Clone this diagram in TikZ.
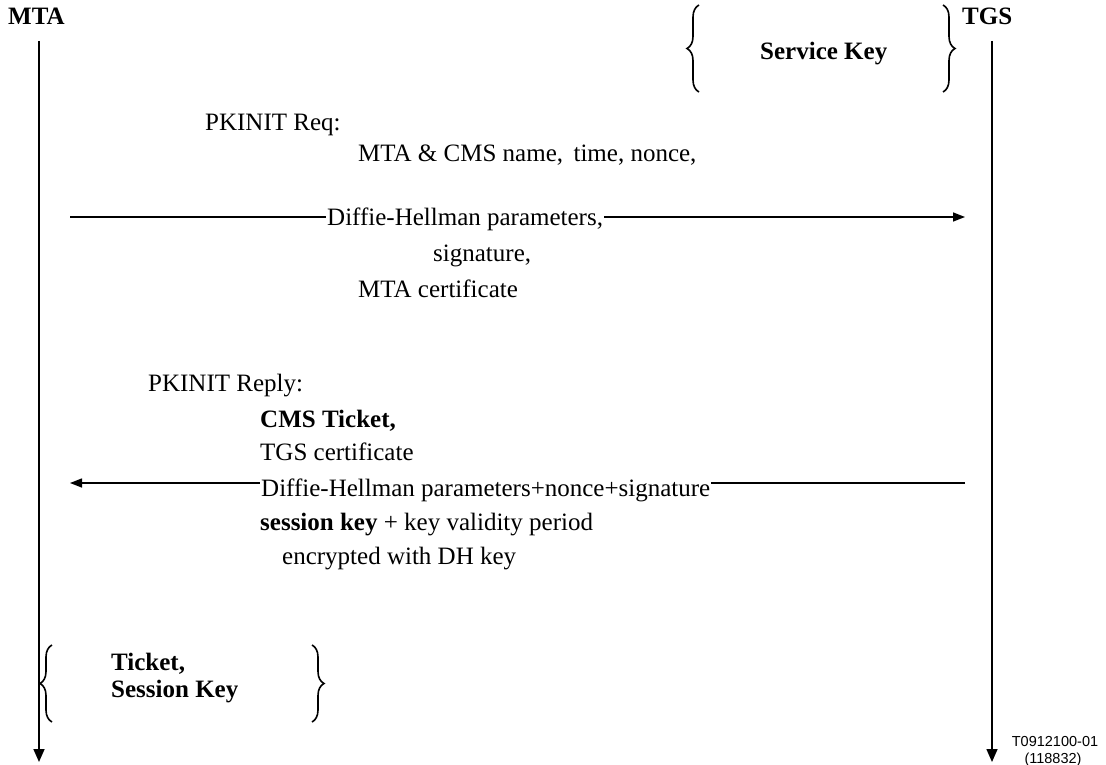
\documentclass[tikz,border=0pt]{standalone}
\usepackage{fontspec}
\setmainfont{Liberation Serif}
\newfontfamily\figsans{Liberation Sans}
\usetikzlibrary{arrows.meta,decorations.pathreplacing}
\begin{document}
\begin{tikzpicture}[x=1pt,y=-1pt,
  life/.style={line width=1.6pt,-{Triangle[length=13pt,width=11pt]}},
  msgline/.style={line width=1.4pt,-{Triangle[length=12pt,width=9pt]}},
  actor/.style={font=\fontsize{25}{27}\selectfont\bfseries,inner sep=0pt,anchor=base west},
  msgtxt/.style={font=\fontsize{25}{27}\selectfont,inner sep=0pt,anchor=base west},
  boldtxt/.style={msgtxt,font=\fontsize{25}{27}\selectfont\bfseries},
  onln/.style={msgtxt,fill=white,inner xsep=1pt,inner ysep=3pt},
  lbrace/.style={decorate,decoration={brace,amplitude=12pt,aspect=0.5},line width=1.6pt},
  keytxt/.style={font=\fontsize{25}{27}\selectfont\bfseries,inner sep=0pt,anchor=base west}
]
\useasboundingbox (0,0) rectangle (1106,765);
% actors
\node[actor] (mta) at (8,25) {MTA};
\node[actor] (tgs) at (962,25) {TGS};
\coordinate (mtaTop) at (39,41);
\coordinate (mtaBot) at (39,762);
\coordinate (tgsTop) at (992,41);
\coordinate (tgsBot) at (992,762);
\draw[life] (mtaTop) -- (mtaBot);
\draw[life] (tgsTop) -- (tgsBot);
% service key
\draw[lbrace] (699,92) -- (699,5);
\draw[lbrace] (943,5) -- (943,92);
\node[actor] (svc) at (760,60) {Service Key};
% request
\coordinate (reqA) at (70,217);
\coordinate (reqB) at (965,217);
\draw[msgline] (reqA) -- (reqB);
\node[msgtxt] (req0) at (205,131) {PKINIT Req:};
\node[msgtxt] (req1) at (358,161) {MTA \& CMS name,\, time, nonce,};
\node[onln] (req2) at (326,225) {Diffie-Hellman parameters,};
\node[msgtxt] (req3) at (433,261) {signature,};
\node[msgtxt] (req4) at (358,297) {MTA certificate};
% reply
\coordinate (repA) at (965,483);
\coordinate (repB) at (70,483);
\draw[msgline] (repA) -- (repB);
\node[msgtxt] (rep0) at (148,391) {PKINIT Reply:};
\node[boldtxt] (rep1) at (260,427) {CMS Ticket,};
\node[msgtxt] (rep2) at (260,460) {TGS certificate};
\node[onln] (rep3) at (260,496) {Diffie-Hellman parameters+nonce+signature};
\node[msgtxt] (rep4) at (260,530) {\textbf{session key} + key validity period};
\node[msgtxt] (rep5) at (282,564) {encrypted with DH key};
% ticket / session key
\draw[lbrace] (52,722) -- (52,645);
\draw[lbrace] (312,645) -- (312,722);
\node[keytxt] (tk1) at (111,670) {Ticket,};
\node[keytxt] (tk2) at (111,697) {Session Key};
% figure id
\node[font=\fontsize{14.5}{16}\selectfont\figsans,inner sep=0pt,anchor=base] (fid1) at (1055,746) {T0912100-01};
\node[font=\fontsize{14.5}{16}\selectfont\figsans,inner sep=0pt,anchor=base] (fid2) at (1053,763) {(118832)};
\end{tikzpicture}
\end{document}
